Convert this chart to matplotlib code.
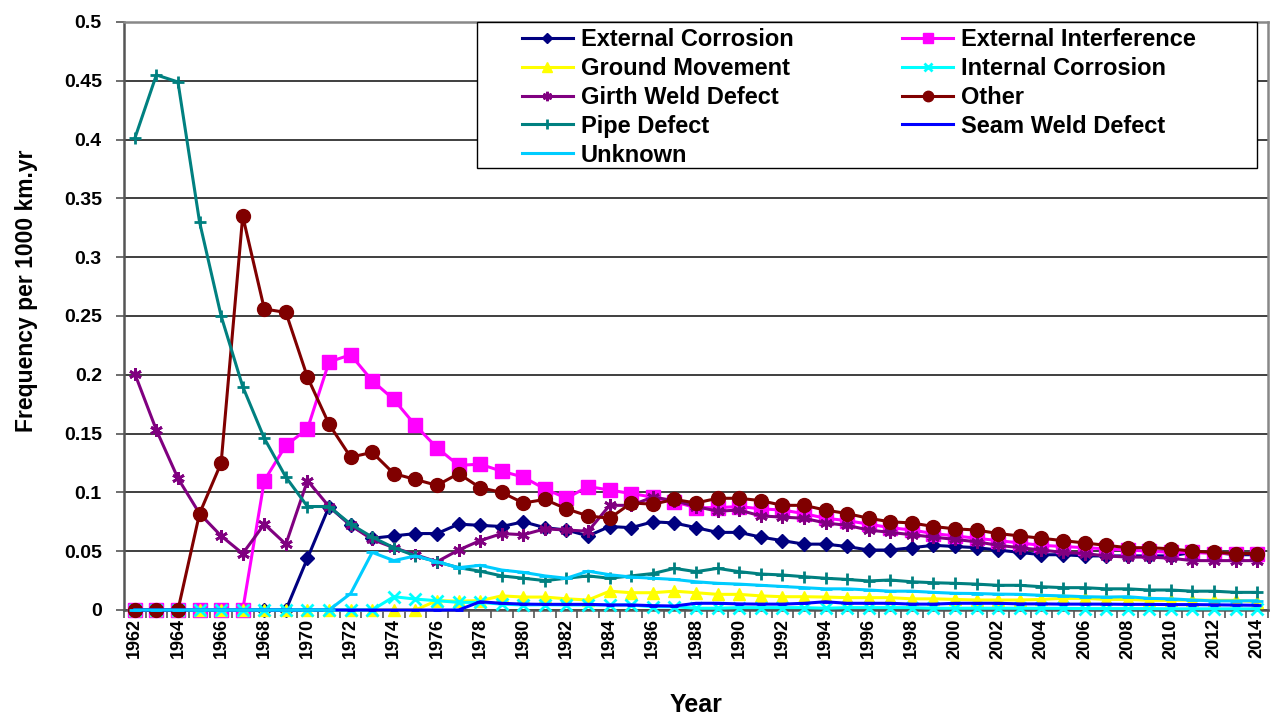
import matplotlib
matplotlib.use("Agg")
import matplotlib.pyplot as plt
from matplotlib.patches import Rectangle
import numpy as np

plt.rcParams['font.family'] = ['Liberation Sans', 'DejaVu Sans']
plt.rcParams['font.weight'] = 'bold'

years = list(range(1962, 2015))

# values (frequency per 1000 km.yr)
ext_corrosion = [0, 0, 0, 0, 0, 0, 0, 0, 0.044, 0.088,
                 0.072, 0.061, 0.063, 0.065, 0.065, 0.073, 0.072, 0.071, 0.075, 0.070,
                 0.068, 0.063, 0.071, 0.070, 0.075, 0.074, 0.070, 0.066, 0.066, 0.062,
                 0.059, 0.056, 0.056, 0.054, 0.051, 0.051, 0.053, 0.055, 0.054, 0.053,
                 0.051, 0.049, 0.047, 0.047, 0.046, 0.046, 0.046, 0.046, 0.046, 0.049,
                 0.049, 0.047, 0.047]
ext_interference = [0, 0, 0, 0, 0, 0, 0.110, 0.140, 0.154, 0.211,
                    0.217, 0.195, 0.179, 0.157, 0.138, 0.123, 0.124, 0.118, 0.113, 0.103,
                    0.095, 0.105, 0.102, 0.099, 0.096, 0.092, 0.087, 0.087, 0.088, 0.086,
                    0.085, 0.082, 0.078, 0.076, 0.073, 0.070, 0.068, 0.065, 0.063, 0.061,
                    0.059, 0.057, 0.055, 0.054, 0.053, 0.052, 0.051, 0.050, 0.049, 0.049,
                    0.048, 0.048, 0.048]
ground_movement = [0, 0, 0, 0, 0, 0, 0, 0, 0, 0,
                   0, 0, 0, 0, 0.008, 0.0075, 0.008, 0.012, 0.011, 0.011,
                   0.0095, 0.0085, 0.016, 0.0147, 0.0147, 0.016, 0.0147, 0.0133, 0.0133, 0.012,
                   0.0113, 0.0113, 0.011, 0.0105, 0.0105, 0.0105, 0.0095, 0.0095, 0.009, 0.0085,
                   0.0085, 0.0085, 0.009, 0.0099, 0.0099, 0.009, 0.009, 0.0082, 0.0082, 0.0085,
                   0.0082, 0.0082, 0.0071]
int_corrosion = [0, 0, 0, 0, 0, 0, 0, 0, 0, 0,
                 0, 0, 0.0113, 0.0093, 0.0079, 0.0065, 0.0065, 0.005, 0.0043, 0.0045,
                 0.0043, 0.0043, 0.0043, 0.0043, 0.0028, 0.0028, 0.0015, 0.0015, 0.002, 0.002,
                 0.002, 0.002, 0.0015, 0.002, 0.002, 0.002, 0.002, 0.0015, 0.0015, 0.0015,
                 0.0015, 0.0015, 0.0014, 0.0014, 0.0012, 0.0012, 0.0012, 0.0012, 0.001, 0.001,
                 0.001, 0.001, 0.001]
girth_weld = [0.201, 0.153, 0.112, 0.082, 0.063, 0.048, 0.073, 0.056, 0.110, 0.088,
              0.072, 0.060, 0.053, 0.047, 0.041, 0.051, 0.059, 0.065, 0.064, 0.069,
              0.068, 0.067, 0.089, 0.089, 0.096, 0.093, 0.088, 0.084, 0.085, 0.080,
              0.079, 0.078, 0.074, 0.072, 0.068, 0.066, 0.064, 0.062, 0.060, 0.058,
              0.055, 0.053, 0.051, 0.049, 0.048, 0.046, 0.045, 0.045, 0.044, 0.042,
              0.042, 0.042, 0.042]
other = [0, 0, 0, 0.082, 0.125, 0.335, 0.256, 0.253, 0.198, 0.158,
         0.130, 0.134, 0.116, 0.111, 0.106, 0.116, 0.104, 0.100, 0.091, 0.094,
         0.086, 0.080, 0.078, 0.091, 0.090, 0.094, 0.091, 0.095, 0.095, 0.093,
         0.089, 0.089, 0.085, 0.082, 0.078, 0.075, 0.074, 0.071, 0.069, 0.068,
         0.065, 0.063, 0.061, 0.059, 0.057, 0.055, 0.053, 0.053, 0.052, 0.050,
         0.049, 0.048, 0.048]
pipe_defect = [0.401, 0.455, 0.449, 0.330, 0.250, 0.190, 0.146, 0.113, 0.088, 0.088,
               0.073, 0.062, 0.053, 0.046, 0.041, 0.036, 0.033, 0.029, 0.027, 0.025,
               0.027, 0.029, 0.027, 0.029, 0.031, 0.0354, 0.0326, 0.0354, 0.0326, 0.0306,
               0.0298, 0.0283, 0.027, 0.026, 0.0247, 0.0255, 0.024, 0.0232, 0.0227, 0.022,
               0.021, 0.021, 0.0198, 0.019, 0.019, 0.018, 0.018, 0.017, 0.017, 0.016,
               0.016, 0.015, 0.015]
seam_weld = [0, 0, 0, 0, 0, 0, 0, 0, 0, 0,
             0, 0, 0, 0, 0, 0, 0.007, 0.0057, 0.005, 0.0048,
             0.0048, 0.0048, 0.0043, 0.0043, 0.0037, 0.0034, 0.0057, 0.0057, 0.0052, 0.005,
             0.005, 0.0057, 0.007, 0.0057, 0.0057, 0.0057, 0.005, 0.005, 0.0057, 0.0057,
             0.0057, 0.0052, 0.0052, 0.005, 0.005, 0.005, 0.0048, 0.0048, 0.0046, 0.0046,
             0.0044, 0.0042, 0.004]
unknown = [0, 0, 0, 0, 0, 0, 0, 0, 0, 0,
           0.014, 0.049, 0.042, 0.046, 0.041, 0.036, 0.038, 0.034, 0.032, 0.029,
           0.027, 0.033, 0.030, 0.028, 0.027, 0.026, 0.024, 0.0227, 0.022, 0.021,
           0.020, 0.019, 0.018, 0.018, 0.017, 0.016, 0.016, 0.015, 0.0142, 0.014,
           0.0135, 0.0133, 0.0125, 0.012, 0.0113, 0.011, 0.0113, 0.0099, 0.0095, 0.0085,
           0.0077, 0.0077, 0.0079]

series = [
    ("External Corrosion", ext_corrosion, '#000080', 'D', 7),
    ("External Interference", ext_interference, '#FF00FF', 's', 10),
    ("Ground Movement", ground_movement, '#FFFF00', '^', 9),
    ("Internal Corrosion", int_corrosion, '#00FFFF', 'x', 8),
    ("Girth Weld Defect", girth_weld, '#800080', (6, 2, 0), 9),
    ("Other", other, '#800000', 'o', 10),
    ("Pipe Defect", pipe_defect, '#008080', '+', 9),
    ("Seam Weld Defect", seam_weld, '#0000FF', '_', 6),
    ("Unknown", unknown, '#00CCFF', '_', 8),
]

W, H = 1278, 715
L, R, T, B = 124, 1268, 22, 610
fig = plt.figure(figsize=(W / 100, H / 100), dpi=100)
ax = fig.add_axes([L / W, 1 - B / H, (R - L) / W, (B - T) / H])

x = np.arange(len(years))
handles = {}
for i, (name, vals, col, mk, ms) in enumerate(series):
    mew = 2 if mk in ('x', '+', '_') or isinstance(mk, tuple) else 1
    ln, = ax.plot(x, vals, color=col, lw=2.2, marker=mk, markersize=ms,
                  markeredgewidth=mew, markerfacecolor=col, markeredgecolor=col,
                  label=name, zorder=3 + i, clip_on=False)
    handles[name] = ln

ax.set_xlim(-0.5, len(years) - 0.5)
ax.set_ylim(0, 0.5)
yt = np.arange(0, 0.501, 0.05)
ax.set_yticks(yt)
ax.set_yticklabels([f"{v:g}" for v in yt], fontsize=14, fontweight='bold')
ax.grid(axis='y', color='#303030', lw=1.3)
ax.set_axisbelow(True)

# year labels every 2 years, tick marks between categories
ax.set_xticks(x[::2])
ax.set_xticklabels([str(y) for y in years[::2]], rotation=90, fontsize=13, fontweight='bold')
ax.tick_params(axis='x', length=0, pad=6)
ax.set_xticks(np.arange(-0.5, len(years)), minor=True)
ax.tick_params(axis='x', which='minor', length=6, width=1.2, color='#555555', direction='out')
ax.tick_params(axis='y', length=6, width=1.2, color='#555555', direction='out', pad=10)

for side in ['left', 'bottom']:
    ax.spines[side].set_color('#555555')
    ax.spines[side].set_linewidth(1.8)
for side in ['right', 'top']:
    ax.spines[side].set_color('#888888')
    ax.spines[side].set_linewidth(1.8)

ax.set_xlabel("Year", fontsize=18, fontweight='bold', labelpad=25)
ax.set_ylabel("Frequency per 1000 km.yr", fontsize=16.5, fontweight='bold')
ax.yaxis.set_label_coords((38 - L) / (R - L), (B - 291) / (B - T))

# legend box drawn separately so the entries can sit inside it like the original
box = Rectangle(((477 - L) / (R - L), (B - 168) / (B - T)), (1257 - 477) / (R - L), (168 - T) / (B - T),
                transform=ax.transAxes, facecolor='white', edgecolor='black', lw=1.0,
                zorder=19, clip_on=False)
ax.add_patch(box)

order = ["External Corrosion", "Ground Movement", "Girth Weld Defect", "Pipe Defect", "Unknown",
         "External Interference", "Internal Corrosion", "Other", "Seam Weld Defect"]
leg = ax.legend([handles[n] for n in order], order, ncol=2, loc='upper left',
                bbox_to_anchor=((522 - L) / (R - L), (B - 28) / (B - T)),
                fontsize=17, frameon=False, borderpad=0, labelspacing=0.25,
                handlelength=2.15, handletextpad=0.35, columnspacing=4.6,
                borderaxespad=0, markerscale=0.75)
leg.set_zorder(20)
for t in leg.get_texts():
    t.set_fontweight('bold')

fig.savefig("out.png", dpi=100)
